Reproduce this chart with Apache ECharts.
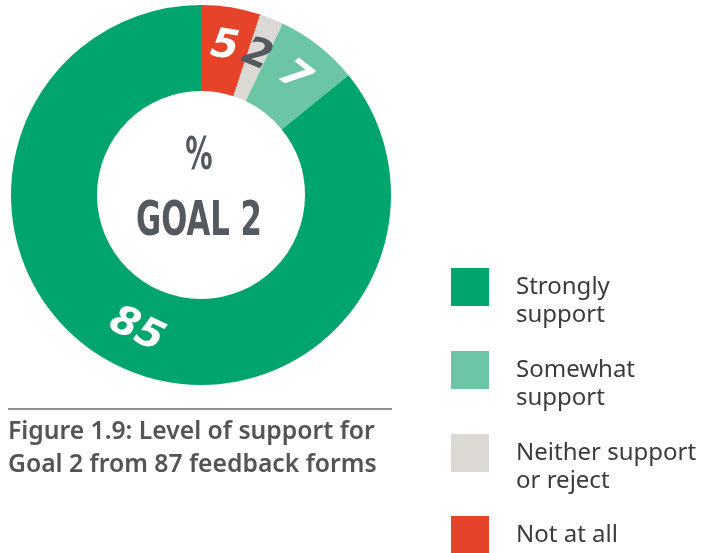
<!DOCTYPE html>
<html>
<head>
<meta charset="utf-8">
<script src="https://cdn.jsdelivr.net/npm/echarts@6/dist/echarts.min.js"></script>
<style>
  html, body { margin: 0; padding: 0; background: #ffffff; }
  #chart { width: 722px; height: 553px; }
</style>
</head>
<body>
<div id="chart"></div>
<script>
// Responses, in the order they run clockwise from twelve o'clock
const categories = ['Not at all', 'Neither support or reject', 'Somewhat support', 'Strongly support'];
const shares = [5, 2, 7, 85];
const sliceColors = ['#e5442b', '#dcd9d5', '#6cc6a5', '#00a56e'];

// Legend runs top to bottom in this order, with its wrapped labels
const legendOrder = ['Strongly support', 'Somewhat support', 'Neither support or reject', 'Not at all'];
const legendLabels = ['Strongly\nsupport', 'Somewhat\nsupport', 'Neither support\nor reject', 'Not at all'];

const centreTitle = ['%', 'GOAL 2'];
const caption = 'Figure 1.9: Level of support for\nGoal 2 from 87 feedback forms';

const chart = echarts.init(document.getElementById('chart'), null, { renderer: 'canvas' });

const heavy = '"DejaVu Sans", "Liberation Sans", sans-serif';
const bodyFont = '"Noto Sans", "Open Sans", sans-serif';

// Two-line entries hang their second line below the swatch: a blank
// leading line keeps the first line level with the swatch centre.
const iconTops = [268, 351, 434, 516];
const legends = legendOrder.map((name, i) => {
  const multi = legendLabels[i].indexOf('\n') >= 0;
  return {
    data: [name],
    left: 451,
    top: multi ? iconTops[i] - 23 : iconTops[i],
    padding: 0,
    icon: 'rect',
    itemWidth: 38,
    itemHeight: 38,
    selectedMode: false,
    formatter: () => (multi ? '\n' : '') + legendLabels[i],
    textStyle: {
      fontFamily: bodyFont,
      fontSize: 24,
      lineHeight: 28,
      color: '#3b3b3b',
      padding: [0, 0, 0, 22]
    }
  };
});

chart.setOption({
  animation: false,
  title: {
    text: caption,
    left: 8,
    top: 415,
    padding: 0,
    textStyle: {
      fontFamily: bodyFont,
      fontWeight: 600,
      fontSize: 24.7,
      lineHeight: 33,
      color: '#545454'
    }
  },
  legend: legends,
  graphic: [
    {
      type: 'line',
      shape: { x1: 8, y1: 409, x2: 392, y2: 409 },
      style: { stroke: '#6a6a6a', lineWidth: 1.5 },
      silent: true
    },
    {
      type: 'text',
      x: 199, y: 158,
      scaleX: 0.62,
      style: {
        text: centreTitle[0],
        fontFamily: heavy,
        fontWeight: 'bold',
        fontSize: 44,
        fill: '#545960',
        align: 'center',
        verticalAlign: 'middle'
      },
      silent: true
    },
    {
      type: 'text',
      x: 199, y: 223,
      scaleX: 0.64,
      style: {
        text: centreTitle[1],
        fontFamily: heavy,
        fontWeight: 'bold',
        fontSize: 48,
        fill: '#545960',
        align: 'center',
        verticalAlign: 'middle'
      },
      silent: true
    }
  ],
  series: [{
    type: 'pie',
    center: [201, 195],
    radius: [104, 190],
    startAngle: 90,
    clockwise: true,
    avoidLabelOverlap: false,
    emphasis: { disabled: true },
    label: {
      show: true,
      position: 'inside',
      rotate: 'tangential',
      formatter: '{c}',
      fontFamily: '"DejaVu Sans", sans-serif',
      fontStyle: 'italic',
      fontWeight: 'bold',
      fontSize: 40,
      color: '#ffffff'
    },
    labelLine: { show: false },
    data: categories.map((name, i) => ({
      name: name,
      value: shares[i],
      itemStyle: { color: sliceColors[i] },
      label: i === 1 ? { color: '#545960' } : undefined
    }))
  }]
});
</script>
</body>
</html>
